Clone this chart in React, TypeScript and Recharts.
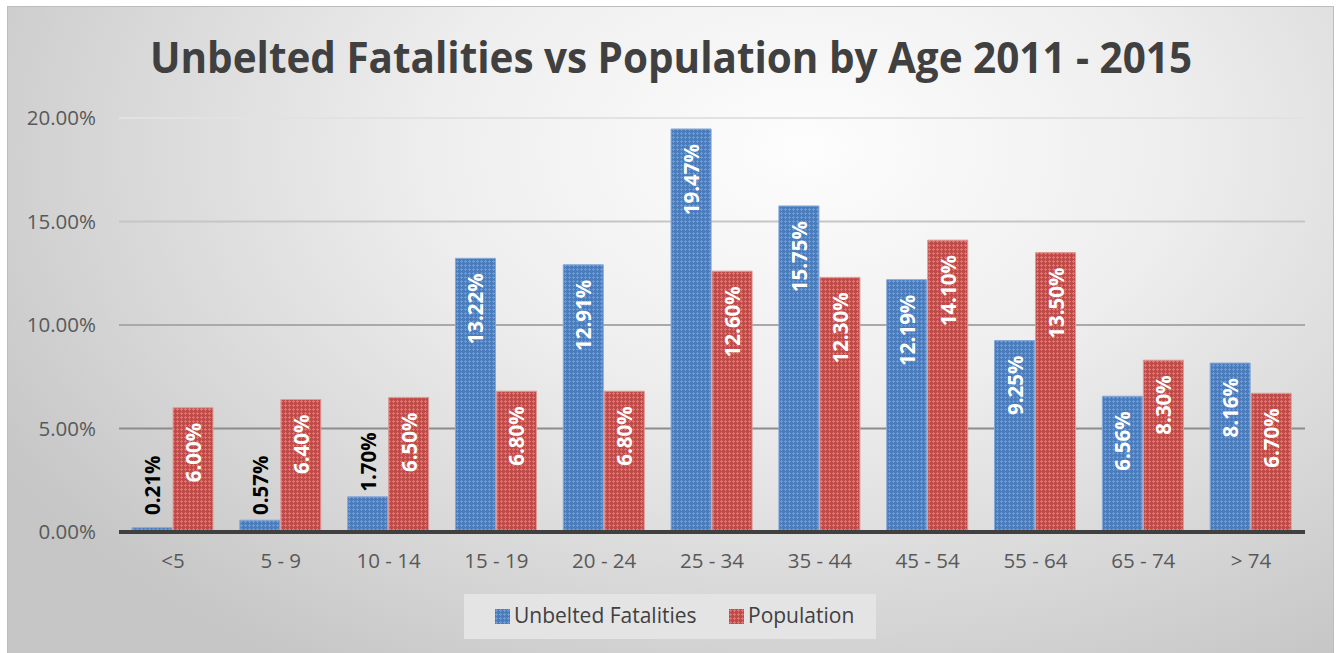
import { Bar, BarChart, CartesianGrid, LabelList, XAxis, YAxis } from "recharts";

const ageGroups = ["<5", "5 - 9", "10 - 14", "15 - 19", "20 - 24", "25 - 34", "35 - 44", "45 - 54", "55 - 64", "65 - 74", "> 74"];
const unbeltedFatalities = [0.21, 0.57, 1.7, 13.22, 12.91, 19.47, 15.75, 12.19, 9.25, 6.56, 8.16];
const population = [6.0, 6.4, 6.5, 6.8, 6.8, 12.6, 12.3, 14.1, 13.5, 8.3, 6.7];
const yTicks = [0, 5, 10, 15, 20];
const seriesNames = ["Unbelted Fatalities", "Population"];

const data = ageGroups.map((age, i) => ({
  age,
  fatalities: unbeltedFatalities[i],
  population: population[i],
}));

const FONT = "'Open Sans', sans-serif";
const pct = (v: number) => `${v.toFixed(2)}%`;

function BarLabel(props: any) {
  const { x, y, width, height, value } = props;
  const cx = Number(x) + Number(width) / 2;
  const top = Number(y);
  const base = top + Number(height);
  const inside = Number(height) > 90;
  const ty = inside ? top + 15 : Math.min(top - 5, base - 17);
  return (
    <text
      x={cx}
      y={ty}
      transform={`rotate(-90, ${cx}, ${ty})`}
      textAnchor={inside ? "end" : "start"}
      dominantBaseline="central"
      fill={inside ? "#ffffff" : "#000000"}
      fontFamily={FONT}
      fontWeight={700}
      fontSize={20.5}
    >
      {pct(Number(value))}
    </text>
  );
}

function LegendSwatch({ pattern }: { pattern: string }) {
  return (
    <svg width={15} height={15} style={{ display: "block" }}>
      <rect x={0} y={0} width={15} height={15} fill={`url(#${pattern})`} />
    </svg>
  );
}

export default function App() {
  return (
    <div style={{ position: "relative", width: 1337, height: 653, background: "#ffffff", fontFamily: FONT }}>
      <style>{`body{margin:0}`}</style>
      <div
        style={{
          position: "absolute",
          left: 7,
          top: 6,
          width: 1325,
          height: 646,
          border: "1px solid #bdbdbd",
          background:
            "radial-gradient(ellipse 70% 95% at 60% 22%, #fdfdfd 0%, #eeeeee 40%, #d7d7d7 75%, #c6c6c6 100%)",
        }}
      />
      <svg width={0} height={0} style={{ position: "absolute" }}>
        <defs>
          <pattern id="bluePat" width="4" height="4" patternUnits="userSpaceOnUse">
            <rect width="4" height="4" fill="#4a7cbc" />
            <rect x="1" y="0" width="1" height="3" fill="#7199d0" />
            <rect x="0" y="1" width="3" height="1" fill="#7199d0" />
          </pattern>
          <pattern id="redPat" width="4" height="4" patternUnits="userSpaceOnUse">
            <rect width="4" height="4" fill="#bf4b48" />
            <rect x="1" y="0" width="1" height="3" fill="#d77875" />
            <rect x="0" y="1" width="3" height="1" fill="#d77875" />
          </pattern>
        </defs>
      </svg>
      <svg width={1337} height={100} style={{ position: "absolute", left: 0, top: 0 }}>
        <text
          x={671}
          y={73}
          textAnchor="middle"
          fontFamily={FONT}
          fontWeight={700}
          fontSize={43}
          fill="#404040"
          textLength={1042}
          lengthAdjust="spacingAndGlyphs"
        >
          Unbelted Fatalities vs Population by Age 2011 - 2015
        </text>
      </svg>
      <div style={{ position: "absolute", left: 0, top: 0 }}>
        <BarChart
          width={1337}
          height={653}
          data={data}
          margin={{ top: 118, right: 32, left: 19, bottom: 81 }}
          barSize={40}
          barGap={1}
        >
          <defs>
            <linearGradient id="gridGrad" gradientUnits="userSpaceOnUse" x1="0" y1="118" x2="0" y2="430">
              <stop offset="0%" stopColor="#e2e2e2" />
              <stop offset="100%" stopColor="#8c8c8c" />
            </linearGradient>
          </defs>
          <CartesianGrid stroke="url(#gridGrad)" strokeWidth={2} vertical={false} />
          <XAxis
            dataKey="age"
            height={40}
            tickLine={false}
            tickSize={0}
            tickMargin={21}
            axisLine={{ stroke: "#404040", strokeWidth: 4 }}
            tick={{ fill: "#595959", fontSize: 20.5, fontFamily: FONT }}
          />
          <YAxis
            width={100}
            domain={[0, 20]}
            ticks={yTicks}
            tickFormatter={pct}
            tickLine={false}
            tickSize={0}
            tickMargin={23}
            axisLine={false}
            tick={{ fill: "#595959", fontSize: 20.5, fontFamily: FONT }}
          />
          <Bar dataKey="fatalities" name={seriesNames[0]} fill="url(#bluePat)" stroke="#86a8d8" strokeWidth={1} isAnimationActive={false}>
            <LabelList dataKey="fatalities" content={BarLabel} />
          </Bar>
          <Bar dataKey="population" name={seriesNames[1]} fill="url(#redPat)" stroke="#e19896" strokeWidth={1} isAnimationActive={false}>
            <LabelList dataKey="population" content={BarLabel} />
          </Bar>
        </BarChart>
      </div>
      <div
        style={{
          position: "absolute",
          left: 464,
          top: 594,
          width: 412,
          height: 45,
          background: "#e4e4e4",
          fontSize: 21,
          color: "#404040",
        }}
      >
        <div style={{ position: "absolute", left: 31, top: 15 }}>
          <LegendSwatch pattern="bluePat" />
        </div>
        <div style={{ position: "absolute", left: 50, top: 7, lineHeight: "28px" }}>{seriesNames[0]}</div>
        <div style={{ position: "absolute", left: 265, top: 15 }}>
          <LegendSwatch pattern="redPat" />
        </div>
        <div style={{ position: "absolute", left: 284, top: 7, lineHeight: "28px" }}>{seriesNames[1]}</div>
      </div>
    </div>
  );
}
